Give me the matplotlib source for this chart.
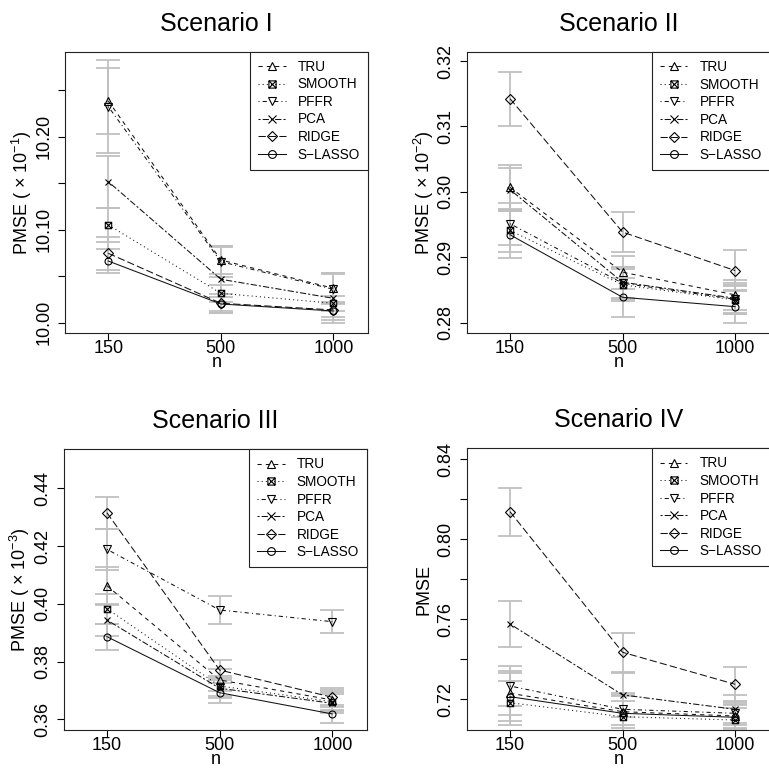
import matplotlib
matplotlib.use('Agg')
import matplotlib.pyplot as plt
import numpy as np
from matplotlib.path import Path
from matplotlib.lines import Line2D

plt.rcParams['font.family'] = ['Liberation Sans', 'DejaVu Sans']
plt.rcParams['mathtext.fontset'] = 'custom'
plt.rcParams['mathtext.rm'] = 'Liberation Sans'
plt.rcParams['mathtext.it'] = 'Liberation Sans:italic'
plt.rcParams['mathtext.bf'] = 'Liberation Sans:bold'

# ---------------- data ----------------
n_labels = ['150', '500', '1000']
methods = ['TRU', 'SMOOTH', 'PFFR', 'PCA', 'RIDGE', 'S\u2212LASSO']
titles = ['Scenario I', 'Scenario II', 'Scenario III', 'Scenario IV']
ylabels = [r'PMSE ( $\times$ 10$^{-1}$)', r'PMSE ( $\times$ 10$^{-2}$)',
           r'PMSE ( $\times$ 10$^{-3}$)', 'PMSE']

# Scenario I (values and half-widths of error bars)
s1_tru    = [10.2384, 10.0674, 10.0370]
s1_smooth = [10.1051, 10.0316, 10.0209]
s1_pffr   = [10.2323, 10.0656, 10.0359]
s1_pca    = [10.1516, 10.0467, 10.0262]
s1_ridge  = [10.0746, 10.0209, 10.0137]
s1_slasso = [10.0663, 10.0201, 10.0126]
e1_tru    = [0.036, 0.015, 0.016]
e1_smooth = [0.018, 0.009, 0.008]
e1_pffr   = [0.050, 0.016, 0.016]
e1_pca    = [0.028, 0.036, 0.027]
e1_ridge  = [0.018, 0.010, 0.008]
e1_slasso = [0.013, 0.008, 0.010]

# Scenario II
s2_tru    = [0.30069, 0.28772, 0.28425]
s2_smooth = [0.29410, 0.28578, 0.28348]
s2_pffr   = [0.29513, 0.28604, 0.28359]
s2_pca    = [0.30034, 0.28619, 0.28374]
s2_ridge  = [0.31424, 0.29385, 0.28797]
s2_slasso = [0.29344, 0.28389, 0.28245]
e2_tru    = [0.0034, 0.0025, 0.0023]
e2_smooth = [0.0033, 0.0024, 0.0022]
e2_pffr   = [0.0032, 0.0024, 0.0022]
e2_pca    = [0.0033, 0.0024, 0.0023]
e2_ridge  = [0.0041, 0.0031, 0.0031]
e2_slasso = [0.0036, 0.0030, 0.0025]

# Scenario III
s3_tru    = [0.40627, 0.37361, 0.36668]
s3_smooth = [0.39830, 0.37153, 0.36610]
s3_pffr   = [0.41887, 0.39785, 0.39380]
s3_pca    = [0.39439, 0.37074, 0.36554]
s3_ridge  = [0.43155, 0.37707, 0.36762]
s3_slasso = [0.38861, 0.36921, 0.36184]
e3_tru    = [0.0066, 0.0037, 0.0033]
e3_smooth = [0.0052, 0.0036, 0.0032]
e3_pffr   = [0.0071, 0.0047, 0.0039]
e3_pca    = [0.0056, 0.0035, 0.0032]
e3_ridge  = [0.0056, 0.0036, 0.0033]
e3_slasso = [0.0045, 0.0034, 0.0032]

# Scenario IV
s4_tru    = [0.7230, 0.7138, 0.71165]
s4_smooth = [0.7183, 0.7113, 0.70965]
s4_pffr   = [0.72665, 0.7150, 0.7130]
s4_pca    = [0.75765, 0.7222, 0.7150]
s4_ridge  = [0.8138, 0.7435, 0.7275]
s4_slasso = [0.7213, 0.7130, 0.7110]
e4_tru    = [0.011, 0.008, 0.006]
e4_smooth = [0.011, 0.008, 0.006]
e4_pffr   = [0.010, 0.008, 0.006]
e4_pca    = [0.0117, 0.011, 0.007]
e4_ridge  = [0.0119, 0.0096, 0.0088]
e4_slasso = [0.012, 0.009, 0.006]

# y ticks / labels
yt1 = [10.00, 10.05, 10.10, 10.15, 10.20, 10.25]
yl1 = ['10.00', '', '10.10', '', '10.20', '']
yt2 = [0.28, 0.29, 0.30, 0.31, 0.32]
yl2 = ['0.28', '0.29', '0.30', '0.31', '0.32']
yt3 = [0.36, 0.38, 0.40, 0.42, 0.44]
yl3 = ['0.36', '0.38', '0.40', '0.42', '0.44']
yt4 = [0.72, 0.74, 0.76, 0.78, 0.80, 0.82, 0.84]
yl4 = ['0.72', '', '0.76', '', '0.80', '', '0.84']

panels = [
    ([s1_tru, s1_smooth, s1_pffr, s1_pca, s1_ridge, s1_slasso],
     [e1_tru, e1_smooth, e1_pffr, e1_pca, e1_ridge, e1_slasso],
     (9.9886, 10.2914), yt1, yl1),
    ([s2_tru, s2_smooth, s2_pffr, s2_pca, s2_ridge, s2_slasso],
     [e2_tru, e2_smooth, e2_pffr, e2_pca, e2_ridge, e2_slasso],
     (0.27838, 0.32138), yt2, yl2),
    ([s3_tru, s3_smooth, s3_pffr, s3_pca, s3_ridge, s3_slasso],
     [e3_tru, e3_smooth, e3_pffr, e3_pca, e3_ridge, e3_slasso],
     (0.35629, 0.45351), yt3, yl3),
    ([s4_tru, s4_smooth, s4_pffr, s4_pca, s4_ridge, s4_slasso],
     [e4_tru, e4_smooth, e4_pffr, e4_pca, e4_ridge, e4_slasso],
     (0.70465, 0.8455), yt4, yl4),
]

# ---------------- styles ----------------
boxx = Path([(-1, -1), (1, -1), (1, 1), (-1, 1), (-1, -1),
             (-1, -1), (1, 1), (-1, 1), (1, -1)],
            [Path.MOVETO, Path.LINETO, Path.LINETO, Path.LINETO, Path.CLOSEPOLY,
             Path.MOVETO, Path.LINETO, Path.MOVETO, Path.LINETO])
markers = ['^', boxx, 'v', 'x', 'D', 'o']
msizes = [5.5, 4.6, 5.5, 5.0, 4.6, 5.0]
linestyles = [(0, (4, 4)), (0, (1, 3)), (0, (1, 3, 4, 3)), (0, (2, 2, 6, 2)),
              (0, (7, 3)), '-']

W, H = 769, 768
fig = plt.figure(figsize=(W / 100, H / 100), dpi=100)
boxes = [
    (65, 51.7, 368.3, 333.3),
    (466.7, 52.0, 770.0, 333.3),
    (63.5, 449.3, 367.3, 730.0),
    (466.7, 448.3, 770.0, 730.0),
]

x = np.arange(1, 4)
for k, (vals, errs, ylim, yt, yl) in enumerate(panels):
    l, t, r, b = boxes[k]
    ax = fig.add_axes([l / W, 1 - b / H, (r - l) / W, (b - t) / H])
    for i in range(len(methods)):
        ax.errorbar(x, vals[i], yerr=errs[i], fmt='none', ecolor='#C0C0C0',
                    elinewidth=1.3, capsize=8.5, capthick=1.3, zorder=1)
    handles = []
    for i in range(len(methods)):
        ax.plot(x, vals[i], linestyle=linestyles[i], color='#111111', lw=0.75,
                marker=markers[i], markersize=msizes[i], markerfacecolor='none',
                markeredgecolor='black', markeredgewidth=0.8, zorder=3)
        handles.append(Line2D([], [], linestyle=linestyles[i], color='#111111',
                              lw=0.75, marker=markers[i], markersize=msizes[i] + 0.6,
                              markerfacecolor='none', markeredgecolor='black',
                              markeredgewidth=0.8))
    ax.set_xlim(0.615, 3.31)
    ax.set_ylim(*ylim)
    ax.set_xticks(x)
    ax.set_xticklabels(n_labels)
    ax.set_yticks(yt)
    ax.set_yticklabels(yl)
    ax.tick_params(axis='both', direction='out', length=4.8, width=0.8,
                   labelsize=13, color='black')
    ax.tick_params(axis='x', pad=0.3)
    ax.tick_params(axis='y', pad=4.0, labelrotation=90)
    for lab in ax.get_yticklabels():
        lab.set_va('center')
    for sp in ax.spines.values():
        sp.set_linewidth(0.8)
        sp.set_color('#222222')
    ax.set_title(titles[k], fontsize=18, pad=15)
    ax.set_ylabel(ylabels[k], fontsize=13, va='center')
    ax.yaxis.set_label_coords(-0.142, 0.5)
    ax.set_xlabel('n', fontsize=13, va='baseline')
    ax.xaxis.set_label_coords(0.5, -0.12)
    leg = ax.legend(handles, methods, loc='upper right', borderaxespad=0,
                    fancybox=False, framealpha=1, edgecolor='#222222',
                    fontsize=9.8, handlelength=2.0, handletextpad=0.9,
                    labelspacing=0.26, borderpad=0.6)
    leg.get_frame().set_linewidth(0.8)

fig.savefig('out.png', dpi=100)
